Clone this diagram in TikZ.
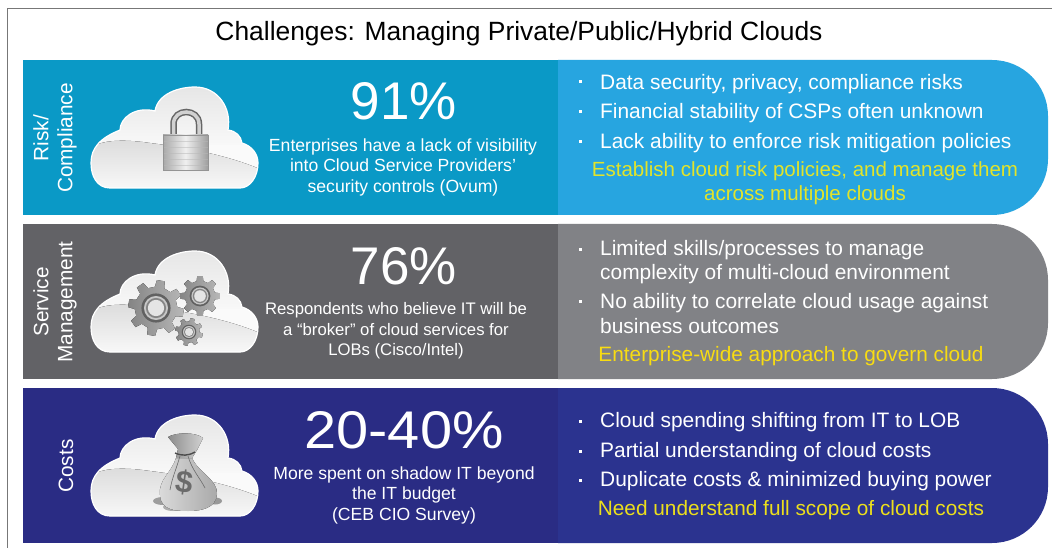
\documentclass[tikz,border=0pt]{standalone}
\usepackage{fontspec}
\setmainfont{Liberation Sans}
\definecolor{teal}{HTML}{0A99C6}
\definecolor{sky}{HTML}{27A5E0}
\definecolor{dgray}{HTML}{626266}
\definecolor{mgray}{HTML}{818286}
\definecolor{navy}{HTML}{2A2C84}
\definecolor{navyb}{HTML}{2B338F}
\definecolor{yela}{HTML}{E2E42A}
\definecolor{yelb}{HTML}{F8DC12}
\definecolor{yelc}{HTML}{ECDF1C}
\definecolor{frameg}{HTML}{777777}
\tikzset{x=1pt,y=-1pt,
 headt/.style={font=\fontsize{26.4}{30}\selectfont,text=black,inner sep=0,anchor=center},
 side/.style={font=\fontsize{20.8}{24}\selectfont,text=white,inner sep=0,anchor=center,rotate=90,align=center},
 pct/.style={font=\fontsize{53}{56}\selectfont,text=white,inner sep=0,anchor=center},
 subt/.style={font=\fontsize{17.6}{20.5}\selectfont,text=white,inner sep=0,anchor=center,align=center},
 bul/.style={font=\fontsize{20.9}{30}\selectfont,text=white,inner sep=0,anchor=west},
 act/.style={font=\fontsize{20.8}{24}\selectfont,inner sep=0,anchor=center,align=center},
 dotm/.style={fill=white,inner sep=0,minimum size=3pt,draw=none},
}
\def\cldpath{(110,128) .. controls (97,128) and (91,116) .. (91,103)
  .. controls (91,88) and (100,78) .. (120,70)
  .. controls (120,58) and (135,46) .. (155,51)
  .. controls (158,33) and (180,27) .. (195,27)
  .. controls (218,27) and (232,48) .. (228,70)
  .. controls (236,71) and (241,76) .. (242,83)
  .. controls (252,86) and (258,94) .. (258,103)
  .. controls (258,117) and (250,128) .. (240,128) -- cycle}
\newcommand{\cloudat}[1]{%
 \begin{scope}[shift={(0,#1)}]
 \begin{scope}
 \clip \cldpath;
 \fill[top color=white!90!black,bottom color=white!98!black] (85,25) rectangle (262,90);
 \fill[white!98!black] (85,85) rectangle (262,132);
 \fill[top color=white!86!black,bottom color=white!98!black] (88,132) -- (88,90) .. controls (100,78) and (130,80) .. (150,83) .. controls (190,88) and (230,96) .. (262,110) -- (262,132) -- cycle;
 \end{scope}
 \draw[white,line width=1.2pt] \cldpath;
 \end{scope}}
\newcommand{\capband}[2]{%
 \begin{scope}[shift={(0,#2)}]
 \fill[#1] (558,0) -- (992,0) .. controls (1023,0) and (1048,25) .. (1048,56) -- (1048,99) .. controls (1048,130) and (1023,155) .. (992,155) -- (558,155) -- cycle;
 \end{scope}}
\newcommand{\gearat}[4]{% x y R offset
 \begin{scope}[shift={(#1,#2)}]
 \fill[left color=white!52!black,right color=white!72!black] (#4-13:#3*.76) \foreach \a in {0,45,...,315} { -- (\a+#4-13:#3*.76) -- (\a+#4-8:#3) -- (\a+#4+8:#3) -- (\a+#4+13:#3*.76) } -- cycle;
 \fill[white!38!black] (0,0) circle ({#3*.52});
 \fill[white!78!black] (0,0) circle ({#3*.43});
 \fill[white!52!black] (0,0) circle ({#3*.36});
 \fill[white!90!black] (0,0) circle ({#3*.29});
 \end{scope}}
\begin{document}
\begin{tikzpicture}
\useasboundingbox (0,0) rectangle (1052,548);
\fill[white] (0,0) rectangle (1052,548);
\coordinate (tl) at (7,9);\coordinate (tr) at (1052,9);\coordinate (bl) at (7,548);
\draw[frameg,line width=1pt] (bl)--(tl)--(tr);
\node[headt] (title) at (519,34) {Challenges: Managing Private/Public/Hybrid Clouds};
% bands
\fill[teal] (22.5,60) rectangle (560,215);
\capband{sky}{60}
\fill[dgray] (22.5,224) rectangle (560,379);
\capband{mgray}{224}
\fill[navy] (22.5,388) rectangle (560,543);
\capband{navyb}{388}
\node[side] (s1) at (55,138) {Risk/\\Compliance};
\node[side] (s2) at (55,302) {Service\\Management};
\node[side] (s3) at (66,466) {Costs};
\cloudat{60}
\cloudat{224}
\cloudat{388}
% lock
\draw[white!40!black,line width=6.5pt] (173.5,136) -- (173.5,124) .. controls (173.5,108) and (199,108) .. (199,124) -- (199,136);
\draw[white!82!black,line width=3.5pt] (173.5,136) -- (173.5,124) .. controls (173.5,108) and (199,108) .. (199,124) -- (199,136);
\fill[left color=white!66!black,right color=white!62!black,middle color=white!94!black] (163,135) rectangle (208,170);
\foreach \y in {141,147,153,159,165} {\draw[white!72!black,line width=.5pt,opacity=.5] (163,\y) -- (208,\y);}
\draw[white!58!black,line width=.5pt] (163,135) rectangle (208,170);
% gears
\gearat{156}{308}{28}{10}
\gearat{200}{296}{20}{0}
\gearat{189}{332}{14}{15}
% money bag
\fill[white!62!black] (163,501) ellipse (10 and 4);
\fill[white!68!black] (173,507) ellipse (10 and 4);
\fill[white!60!black] (215,501) ellipse (7 and 3.5);
\fill[left color=white!86!black,right color=white!66!black] (176,458) .. controls (172,472) and (158,480) .. (160,495) .. controls (161,510) and (175,511) .. (188,511) .. controls (202,511) and (216,508) .. (217,494) .. controls (218,480) and (198,472) .. (192,458) -- cycle;
\fill[left color=white!55!black,right color=white!82!black] (176,458) -- (178,449) -- (168,437) .. controls (176,432) and (196,432) .. (203,438) -- (197,450) -- (192,458) -- cycle;
\draw[white!30!black,line width=1.4pt] (175,453) .. controls (182,456) and (188,456) .. (195,452);
\draw[white!42!black,line width=.6pt] (180,456) .. controls (176,470) and (172,478) .. (170,490);
\draw[white!42!black,line width=.6pt] (188,456) .. controls (192,470) and (200,478) .. (205,488);
\node[font=\fontsize{31}{31}\bfseries\selectfont,text=white!42!black,inner sep=0,rotate=-8] (dollar) at (184,482) {\$};
% percentages
\node[pct] (p1) at (404,101) {91\%};
\node[pct] (p2) at (404,266) {76\%};
\node[pct,xscale=1.09,transform shape] (p3) at (404,430) {20-40\%};
\node[subt] (t1) at (403,167) {Enterprises have a lack of visibility\\into Cloud Service Providers’\\security controls (Ovum)};
\node[subt,font=\fontsize{16.7}{20.5}\selectfont] (t2) at (396,331) {Respondents who believe IT will be\\a “broker” of cloud services for\\LOBs (Cisco/Intel)};
\node[subt] (t3) at (404,495) {More spent on shadow IT beyond\\the IT budget\\(CEB CIO Survey)};
% bullets
\node[bul] (b1) at (600,84) {Data security, privacy, compliance risks};
\node[bul] (b2) at (600,113) {Financial stability of CSPs often unknown};
\node[bul] (b3) at (600,143) {Lack ability to enforce risk mitigation policies};
\node[bul] (b4) at (600,250.5) {Limited skills/processes to manage};
\node[bul] (b5) at (600,274) {complexity of multi-cloud environment};
\node[bul] (b6) at (600,303) {No ability to correlate cloud usage against};
\node[bul] (b7) at (600,326) {business outcomes};
\node[bul] (b8) at (600,422) {Cloud spending shifting from IT to LOB};
\node[bul] (b9) at (600,452) {Partial understanding of cloud costs};
\node[bul] (b10) at (600,481) {Duplicate costs \& minimized buying power};
\foreach \n/\y in {d1/82,d2/112,d3/142,d4/249,d5/301,d6/421,d7/451,d8/480} {\node[dotm] (\n) at (580,\y) {};}
\node[act,text=yela,font=\fontsize{20.5}{24}\selectfont] (a1) at (805,183) {Establish cloud risk policies, and manage them\\across multiple clouds};
\node[act,text=yelb] (a2) at (791,356) {Enterprise-wide approach to govern cloud};
\node[act,text=yelc] (a3) at (791,510) {Need understand full scope of cloud costs};
\end{tikzpicture}
\end{document}
